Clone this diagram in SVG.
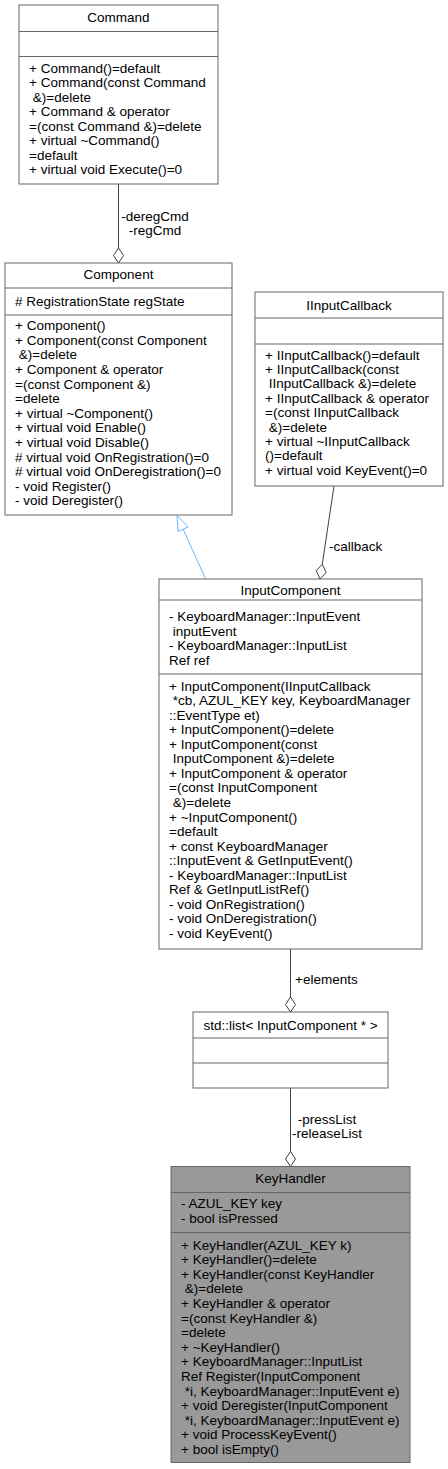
<svg xmlns="http://www.w3.org/2000/svg" width="448" height="1469" viewBox="0 0 448 1469" xml:space="preserve">
<style>
text{font-family:"Liberation Sans",Arial,sans-serif;font-size:13.5px;fill:#000;white-space:pre}
.t{text-anchor:middle}
.box{fill:#fff;stroke:#666;stroke-width:1}
.hl{fill:#999;stroke:#666;stroke-width:1}
.sep{stroke:#666;stroke-width:1}
.e{stroke:#404040;stroke-width:1;fill:none}
.dia{fill:#fff;stroke:#404040;stroke-width:1}
.inh{stroke:#63b8ff;stroke-width:1;fill:none}
.tri{fill:#fff;stroke:#63b8ff;stroke-width:1}
</style>
<rect width="448" height="1469" fill="#fff"/>
<g id="edges">
<line class="e" x1="118.5" y1="184" x2="118.5" y2="248"/>
<polygon class="dia" points="118.5,263 113.5,255.5 118.5,248 123.5,255.5"/>
<text class="t" x="155" y="220.5">-deregCmd</text>
<text class="t" x="155" y="234.5">-regCmd</text>
<line class="inh" x1="205.7" y1="579" x2="183.1" y2="529.2"/>
<polygon class="tri" points="177,515.5 188.1,527 178.1,531.5"/>
<line class="e" x1="334" y1="486" x2="322.3" y2="564.2"/>
<polygon class="dia" points="320,579 326.1,572.4 322.3,564.2 316.2,570.8"/>
<text x="329" y="551">-callback</text>
<line class="e" x1="290.5" y1="949" x2="290.5" y2="997"/>
<polygon class="dia" points="290.5,1012 285.5,1004.5 290.5,997 295.5,1004.5"/>
<text x="295" y="984">+elements</text>
<line class="e" x1="290.5" y1="1088" x2="290.5" y2="1151.5"/>
<polygon class="dia" points="290.5,1166.5 285.5,1159 290.5,1151.5 295.5,1159"/>
<text class="t" x="327" y="1124">-pressList</text>
<text class="t" x="327" y="1138">-releaseList</text>
</g>
<g id="Command">
<rect class="box" x="19" y="5" width="199" height="179"/>
<line class="sep" x1="19" y1="31.5" x2="218" y2="31.5"/>
<line class="sep" x1="19" y1="56.5" x2="218" y2="56.5"/>
<text class="t" x="118.5" y="21.5">Command</text>
<text x="29" y="72.8">+ Command()=default</text>
<text x="29" y="87.3">+ Command(const Command</text>
<text x="29" y="101.8"> &amp;)=delete</text>
<text x="29" y="116.3">+ Command &amp; operator</text>
<text x="29" y="130.8">=(const Command &amp;)=delete</text>
<text x="29" y="145.3">+ virtual ~Command()</text>
<text x="29" y="159.8">=default</text>
<text x="29" y="174.3">+ virtual void Execute()=0</text>
</g>
<g id="Component">
<rect class="box" x="5" y="263" width="227" height="252"/>
<line class="sep" x1="5" y1="288" x2="232" y2="288"/>
<line class="sep" x1="5" y1="315" x2="232" y2="315"/>
<text class="t" x="118.5" y="279">Component</text>
<text x="15" y="306"># RegistrationState regState</text>
<text x="15" y="330.2">+ Component()</text>
<text x="15" y="344.8">+ Component(const Component</text>
<text x="15" y="359.4"> &amp;)=delete</text>
<text x="15" y="374">+ Component &amp; operator</text>
<text x="15" y="388.6">=(const Component &amp;)</text>
<text x="15" y="403.2">=delete</text>
<text x="15" y="417.8">+ virtual ~Component()</text>
<text x="15" y="432.4">+ virtual void Enable()</text>
<text x="15" y="447">+ virtual void Disable()</text>
<text x="15" y="461.6"># virtual void OnRegistration()=0</text>
<text x="15" y="476.2"># virtual void OnDeregistration()=0</text>
<text x="15" y="490.8">- void Register()</text>
<text x="15" y="505.4">- void Deregister()</text>
</g>
<g id="IInputCallback">
<rect class="box" x="255" y="292" width="188" height="194"/>
<line class="sep" x1="255" y1="318" x2="443" y2="318"/>
<line class="sep" x1="255" y1="344" x2="443" y2="344"/>
<text class="t" x="349" y="310">IInputCallback</text>
<text x="265" y="359.5">+ IInputCallback()=default</text>
<text x="265" y="373.9">+ IInputCallback(const</text>
<text x="265" y="388.3"> IInputCallback &amp;)=delete</text>
<text x="265" y="402.7">+ IInputCallback &amp; operator</text>
<text x="265" y="417.1">=(const IInputCallback</text>
<text x="265" y="431.5"> &amp;)=delete</text>
<text x="265" y="445.9">+ virtual ~IInputCallback</text>
<text x="265" y="460.3">()=default</text>
<text x="265" y="474.7">+ virtual void KeyEvent()=0</text>
</g>
<g id="InputComponent">
<rect class="box" x="159" y="579" width="263" height="370"/>
<line class="sep" x1="159" y1="600" x2="422" y2="600"/>
<line class="sep" x1="159" y1="674" x2="422" y2="674"/>
<text class="t" x="290.5" y="594.5">InputComponent</text>
<text x="169" y="621">- KeyboardManager::InputEvent</text>
<text x="169" y="635.6"> inputEvent</text>
<text x="169" y="650.2">- KeyboardManager::InputList</text>
<text x="169" y="664.8">Ref ref</text>
<text x="169" y="690.5">+ InputComponent(IInputCallback</text>
<text x="169" y="705.1"> *cb, AZUL_KEY key, KeyboardManager</text>
<text x="169" y="719.6">::EventType et)</text>
<text x="169" y="734.2">+ InputComponent()=delete</text>
<text x="169" y="748.7">+ InputComponent(const</text>
<text x="169" y="763.3"> InputComponent &amp;)=delete</text>
<text x="169" y="777.8">+ InputComponent &amp; operator</text>
<text x="169" y="792.4">=(const InputComponent</text>
<text x="169" y="806.9"> &amp;)=delete</text>
<text x="169" y="821.5">+ ~InputComponent()</text>
<text x="169" y="836">=default</text>
<text x="169" y="850.6">+ const KeyboardManager</text>
<text x="169" y="865.1">::InputEvent &amp; GetInputEvent()</text>
<text x="169" y="879.7">- KeyboardManager::InputList</text>
<text x="169" y="894.2">Ref &amp; GetInputListRef()</text>
<text x="169" y="908.8">- void OnRegistration()</text>
<text x="169" y="923.3">- void OnDeregistration()</text>
<text x="169" y="937.9">- void KeyEvent()</text>
</g>
<g id="std_list">
<rect class="box" x="193" y="1012" width="195" height="76"/>
<line class="sep" x1="193" y1="1038" x2="388" y2="1038"/>
<line class="sep" x1="193" y1="1063" x2="388" y2="1063"/>
<text class="t" x="290.5" y="1030">std::list&lt; InputComponent * &gt;</text>
</g>
<g id="KeyHandler">
<rect class="hl" x="171" y="1166.5" width="239" height="296"/>
<line class="sep" x1="171" y1="1192.5" x2="410" y2="1192.5"/>
<line class="sep" x1="171" y1="1232.5" x2="410" y2="1232.5"/>
<text class="t" x="290.5" y="1183">KeyHandler</text>
<text x="181" y="1207.8">- AZUL_KEY key</text>
<text x="181" y="1222.8">- bool isPressed</text>
<text x="181" y="1249.5">+ KeyHandler(AZUL_KEY k)</text>
<text x="181" y="1264.1">+ KeyHandler()=delete</text>
<text x="181" y="1278.7">+ KeyHandler(const KeyHandler</text>
<text x="181" y="1293.3"> &amp;)=delete</text>
<text x="181" y="1307.9">+ KeyHandler &amp; operator</text>
<text x="181" y="1322.5">=(const KeyHandler &amp;)</text>
<text x="181" y="1337.1">=delete</text>
<text x="181" y="1351.7">+ ~KeyHandler()</text>
<text x="181" y="1366.3">+ KeyboardManager::InputList</text>
<text x="181" y="1380.9">Ref Register(InputComponent</text>
<text x="181" y="1395.5"> *i, KeyboardManager::InputEvent e)</text>
<text x="181" y="1410.1">+ void Deregister(InputComponent</text>
<text x="181" y="1424.7"> *i, KeyboardManager::InputEvent e)</text>
<text x="181" y="1439.3">+ void ProcessKeyEvent()</text>
<text x="181" y="1453.9">+ bool isEmpty()</text>
</g>
</svg>
